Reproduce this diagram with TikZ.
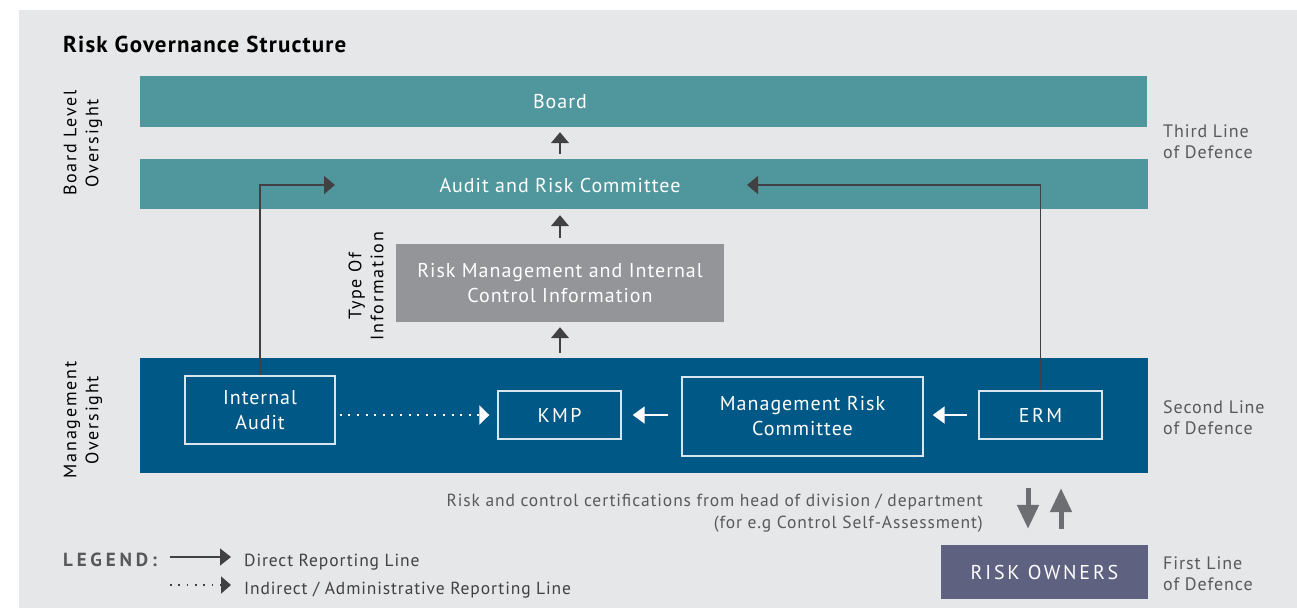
\documentclass[tikz,border=0pt]{standalone}
\usepackage{fontspec}
\setmainfont{PT Sans}[LetterSpace=5]
\usetikzlibrary{arrows.meta,calc}
\definecolor{bgc}{HTML}{E6E7E8}
\definecolor{tealc}{HTML}{4F979D}
\definecolor{infoc}{HTML}{939598}
\definecolor{navyc}{HTML}{005887}
\definecolor{ownc}{HTML}{5F6180}
\definecolor{darkc}{HTML}{414042}
\definecolor{midc}{HTML}{6D6E71}
\definecolor{txtc}{HTML}{58595B}
\definecolor{boxline}{HTML}{D8E6EF}
\begin{document}
\begin{tikzpicture}[x=1pt,y=-1pt,
  bar/.style={fill=tealc,inner sep=0pt,draw=none},
  bartext/.style={text=white,font=\fontsize{20}{23}\selectfont,inner sep=0pt},
  infobox/.style={fill=infoc,inner sep=0pt,text=white,align=center,font=\fontsize{20}{25}\selectfont},
  mgmtbar/.style={fill=navyc,inner sep=0pt},
  mbox/.style={draw=boxline,line width=1.4pt,inner sep=0pt,text=white,align=center,font=\fontsize{20}{25}\selectfont},
  spaced/.style={font=\fontsize{20}{23}\selectfont\addfontfeature{LetterSpace=12}},
  ownbox/.style={fill=ownc,inner sep=0pt,text=white,font=\fontsize{20}{23}\selectfont\addfontfeature{LetterSpace=14}},
  sidelab/.style={rotate=90,align=center,inner sep=0pt,text=black,font=\fontsize{18}{22}\selectfont\addfontfeature{LetterSpace=10}},
  linelab/.style={anchor=west,align=left,inner sep=0pt,text=txtc,font=\fontsize{18}{21}\selectfont},
  darr/.style={draw=darkc,line width=1.4pt,-{Triangle[length=11pt,width=18pt]}},
  warr/.style={draw=white,line width=2pt,-{Triangle[length=12pt,width=17pt]}},
  wdot/.style={draw=white,line width=2pt,dash pattern=on 2pt off 6.6pt,-{Triangle[length=10pt,width=19pt,fill=white]}},
  garr/.style={draw=midc,line width=5pt,-{Triangle[length=24pt,width=21pt]}},
  legtext/.style={anchor=base west,inner sep=0pt,text=darkc,font=\fontsize{17.5}{20}\selectfont}]
\useasboundingbox (0,0) rectangle (1297,608);
\fill[white] (0,0) rectangle (1297,608);
\fill[bgc] (19,10) rectangle (1297,608);

% title
\node[anchor=base west,inner sep=0pt,font=\fontsize{23}{27}\selectfont\bfseries] (title) at (63,52) {Risk Governance Structure};

% board level
\node[bar,minimum width=1007pt,minimum height=51pt] (board) at (643.5,101.5) {};
\node[bartext] (boardt) at (560,102) {Board};
\node[bar,minimum width=1008pt,minimum height=50pt] (arc) at (644,184) {};
\node[bartext] (arct) at (560,185) {Audit and Risk Committee};

% information
\node[infobox,minimum width=328pt,minimum height=78pt] (rm) at (560,283) {Risk Management and Internal\\Control Information};

% management
\node[mgmtbar,minimum width=1008pt,minimum height=115pt] (mgmt) at (644,415.5) {};
\node[mbox,minimum width=150pt,minimum height=68pt] (ia) at (260,410) {Internal\\Audit};
\node[mbox,spaced,minimum width=123pt,minimum height=48pt] (kmp) at (559.5,415) {KMP};
\node[mbox,minimum width=241pt,minimum height=79pt] (mrc) at (802.5,416.5) {Management Risk\\Committee};
\node[mbox,spaced,minimum width=123pt,minimum height=48pt] (erm) at (1040.5,415) {ERM};

% risk owners
\node[ownbox,minimum width=207pt,minimum height=54pt] (ro) at (1044.5,572) {RISK OWNERS};

% side labels
\node[sidelab] (bl) at (83,143) {Board Level\\Oversight};
\node[sidelab] (mo) at (83,420) {Management\\Oversight};
\node[sidelab] (ti) at (366,286) {Type Of\\Information};

% line of defence labels
\node[linelab] (third) at (1163,142) {Third Line\\of Defence};
\node[linelab] (second) at (1163,418) {Second Line\\of Defence};
\node[linelab] (first) at (1163,574) {First Line\\of Defence};

% certification text
\node[anchor=east,align=right,inner sep=0pt,text=txtc,font=\fontsize{17.5}{22}\selectfont] (cert) at (983,513) {Risk and control certifications from head of division / department\\(for e.g Control Self-Assessment)};

% vertical arrows
\draw[darr,shorten <=5pt,shorten >=5pt] (rm.north |- arc.north) -- (rm.north |- board.south);
\draw[darr,shorten <=6pt,shorten >=6pt] (rm.north) -- (rm.north |- arc.south);
\draw[darr,shorten <=5pt,shorten >=5pt] (rm.south |- mgmt.north) -- (rm.south);

% reporting lines to ARC
\coordinate (arcL) at (335,185);
\coordinate (arcR) at (747,185);
\draw[darr] (ia.north) |- (arcL);
\draw[darr] (erm.north) |- (arcR);

% arrows inside management bar
\draw[wdot,shorten <=4pt,shorten >=8pt] (ia.east |- kmp.west) -- (kmp.west);
\draw[warr,shorten <=13pt,shorten >=11pt] (mrc.west |- kmp.east) -- (kmp.east);
\draw[warr,shorten <=11pt,shorten >=9pt] (erm.west) -- (mrc.east |- erm.west);

% risk owner arrows
\draw[garr,shorten <=15pt,shorten >=16pt] ([xshift=-16.5pt]ro.north |- mgmt.south) -- ([xshift=-16.5pt]ro.north);
\draw[garr,shorten <=16pt,shorten >=15pt] ([xshift=16.5pt]ro.north) -- ([xshift=16.5pt]ro.north |- mgmt.south);

% legend
\node[anchor=base west,inner sep=0pt,text=txtc,font=\fontsize{19}{20}\selectfont\bfseries\addfontfeature{LetterSpace=20}] (leg) at (63,566) {LEGEND:};
\coordinate (l1s) at (170,557);
\coordinate (l1e) at (231,557);
\coordinate (l2s) at (170,585);
\coordinate (l2e) at (231,585);
\draw[draw=darkc,line width=1.3pt,-{Triangle[length=11pt,width=17pt]}] (l1s) -- (l1e);
\draw[draw=darkc,line width=1.8pt,dash pattern=on 1.8pt off 6.5pt,-{Triangle[length=10pt,width=17pt,fill=darkc]}] (l2s) -- (l2e);
\node[legtext] (lt1) at (244,566) {Direct Reporting Line};
\node[legtext] (lt2) at (244,594) {Indirect / Administrative Reporting Line};
\end{tikzpicture}
\end{document}
